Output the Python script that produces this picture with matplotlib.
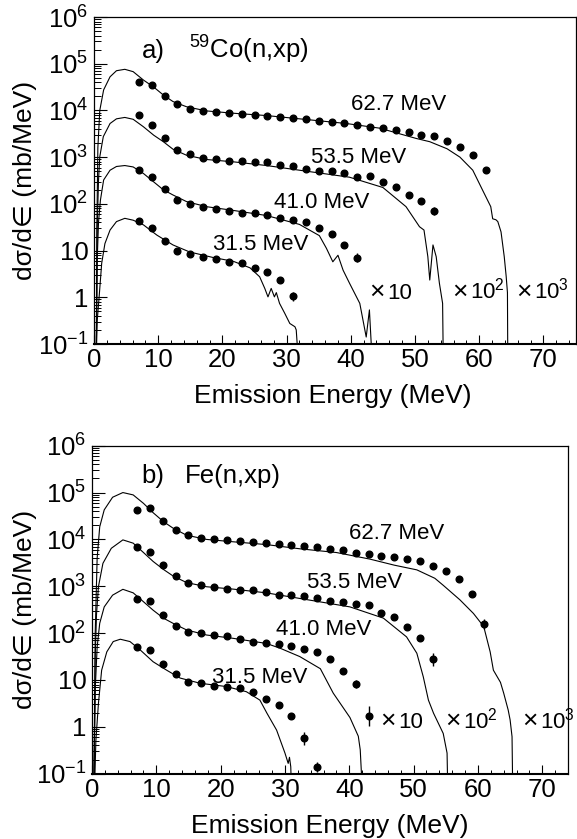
import numpy as np
import matplotlib
matplotlib.use('Agg')
import matplotlib.pyplot as plt
from matplotlib.ticker import MultipleLocator, LogLocator, NullFormatter

plt.rcParams['font.family'] = ['Liberation Sans', 'DejaVu Sans']
plt.rcParams['mathtext.fontset'] = 'custom'
plt.rcParams['mathtext.rm'] = 'Liberation Sans'
plt.rcParams['mathtext.it'] = 'Liberation Sans:italic'
plt.rcParams['mathtext.bf'] = 'Liberation Sans:bold'
plt.rcParams['axes.unicode_minus'] = False

# ---------------- data (mb/MeV, unscaled) ----------------
incident = ['31.5 MeV', '41.0 MeV', '53.5 MeV', '62.7 MeV']
scale_factors = [1, 10, 100, 1000]
scale_labels = ['', '10', r'$\mathregular{10^{2}}$', r'$\mathregular{10^{3}}$']

# --- panel a) 59Co(n,xp) experimental points ---
co_E_315 = [7, 9, 11, 13, 15, 17, 19, 21, 23, 25, 27, 29, 31]
co_315 = [43.7, 30.9, 15.8, 10.0, 8.5, 7.4, 6.6, 5.75, 5.5, 4.27, 3.55, 2.40, 1.05]
co_E_410 = [7, 9, 11, 13, 15, 17, 19, 21, 23, 25, 27, 29, 31, 33, 35, 37, 39, 41]
co_410 = [52.5, 38.0, 20.9, 12.0, 9.77, 8.5, 7.6, 7.2, 6.5, 6.4, 5.7, 4.95, 4.6, 4.0, 3.0, 2.24, 1.33, 0.71]
co_E_535 = [7, 9, 11, 13, 15, 17, 19, 21, 23, 25, 27, 29, 31, 33, 35, 37, 39, 41, 43, 45, 47, 49, 51, 53]
co_535 = [78.5, 48.6, 25.7, 14.1, 11.7, 9.42, 8.95, 8.38, 8.13, 7.85, 7.76, 6.92, 6.61, 5.62, 5.13, 5.01,
          4.57, 3.80, 3.98, 2.95, 2.34, 1.55, 1.15, 0.71]
co_E_627 = [7, 9, 11, 13, 15, 17, 19, 21, 23, 25, 27, 29, 31, 33, 35, 37, 39, 41, 43, 45, 47, 49, 51, 53,
            55, 57, 59, 61]
co_627 = [41.2, 35.0, 20.7, 13.5, 10.7, 9.86, 9.25, 8.79, 8.37, 7.94, 7.59, 7.33, 6.98, 6.46, 6.03, 5.62,
          5.37, 4.90, 4.42, 4.17, 3.72, 3.47, 3.02, 2.82, 2.24, 1.62, 1.10, 0.525]
# error bars (half width in decades) on selected points
co_err_E_315 = [31]
co_err_dex_315 = [0.10]
co_err_E_410 = [41]
co_err_dex_410 = [0.09]
co_err_E_535 = [53]
co_err_dex_535 = [0.09]
co_err_E_627 = []
co_err_dex_627 = []

# --- panel a) calculations ---
co_cE_315 = [0.35, 0.5, 0.8, 1.2, 1.7, 2.5, 3.5, 4.8, 6.1, 7.7, 9.8, 12.3, 14.9, 18.6, 21.7, 24.3, 25.8,
             26.6, 27.1, 27.6, 28.1, 28.4, 28.9, 29.7, 30.5, 31.3, 31.5, 31.8]
co_c_315 = [0.05, 0.316, 1.02, 5.37, 14.1, 27.5, 41.7, 49.0, 44.7, 35.5, 21.4, 13.2, 9.33, 7.08, 5.89,
            4.27, 2.75, 1.55, 1.02, 1.55, 1.02, 1.26, 0.741, 0.457, 0.275, 0.234, 0.2, 0.05]
co_cE_410 = [0.35, 0.5, 0.7, 1.0, 1.5, 2.5, 3.5, 4.8, 6.1, 7.7, 9.3, 10.8, 12.3, 14.4, 17.5, 21.7, 26.9,
             32.0, 35.1, 36.2, 37.2, 38.0, 38.8, 39.8, 41.4, 42.4, 42.9, 43.3]
co_c_410 = [0.005, 0.631, 3.98, 12.0, 32.4, 52.5, 63.1, 66.1, 61.7, 44.7, 29.5, 20.0, 15.5, 11.2, 8.71,
            7.24, 5.62, 3.63, 2.09, 1.12, 0.575, 0.794, 0.380, 0.200, 0.0741, 0.0141, 0.0537, 0.005]
co_cE_535 = [0.35, 0.5, 0.7, 0.9, 1.45, 2.5, 3.5, 4.8, 6.1, 7.7, 9.3, 10.8, 12.3, 14.4, 17.5, 21.7, 26.9,
             32.0, 39.8, 45.0, 48.6, 50.7, 51.4, 52.0, 52.3, 52.8, 53.3, 53.8, 54.3, 54.4]
co_c_535 = [0.0005, 0.316, 3.16, 10.2, 27.5, 52.5, 66.1, 70.8, 64.6, 44.7, 29.5, 21.4, 14.8, 11.0, 8.91,
            7.94, 6.61, 5.25, 3.72, 2.24, 0.871, 0.324, 0.275, 0.0741, 0.0234, 0.132, 0.0741, 0.02,
            0.00741, 0.0005]
co_cE_627 = [0.35, 0.45, 0.6, 0.9, 1.5, 2.5, 3.5, 4.8, 6.1, 7.7, 9.3, 10.8, 12.3, 14.4, 17.5, 21.7, 26.9,
             32.0, 39.3, 44.5, 50.2, 52.3, 55.0, 57.0, 59.0, 60.5, 61.8, 62.1, 62.6, 62.9, 63.4, 63.9,
             64.2, 64.4, 64.45]
co_c_627 = [0.00005, 0.0316, 1.58, 10.0, 27.5, 52.5, 70.8, 75.9, 67.6, 44.7, 31.6, 21.4, 15.5, 12.0, 9.77,
            8.71, 7.76, 6.61, 5.25, 4.17, 2.51, 2.14, 1.51, 1.0, 0.525, 0.200, 0.0871, 0.0479, 0.0457,
            0.0417, 0.0251, 0.00741, 0.00282, 0.00126, 0.00005]

# --- panel b) Fe(n,xp) experimental points ---
fe_E_315 = [7, 9, 11, 13, 15, 17, 19, 21, 23, 25, 27, 29, 31, 33, 35]
fe_315 = [51.3, 43.7, 21.9, 13.2, 9.12, 8.51, 7.41, 7.24, 6.61, 5.62, 3.89, 2.95, 1.74, 0.575, 0.141]
fe_E_410 = [7, 9, 11, 13, 15, 17, 19, 21, 23, 25, 27, 29, 31, 33, 35, 37, 39, 41, 43]
fe_410 = [53.7, 49.0, 24.0, 14.5, 10.7, 10.0, 9.12, 8.71, 7.41, 6.61, 6.03, 5.75, 5.37, 4.68, 3.89, 2.82,
          1.55, 0.813, 0.17]
fe_E_535 = [7, 9, 11, 13, 15, 17, 19, 21, 23, 25, 27, 29, 31, 33, 35, 37, 39, 41, 43, 45, 47, 49, 51, 53]
fe_535 = [70.0, 53.7, 28.2, 16.6, 11.5, 10.5, 9.66, 8.91, 8.32, 8.13, 7.41, 6.61, 6.46, 6.17, 5.62, 4.90,
          4.68, 4.27, 3.89, 2.75, 2.19, 1.32, 0.776, 0.275]
fe_E_627 = [7, 9, 11, 13, 15, 17, 19, 21, 23, 25, 27, 29, 31, 33, 35, 37, 39, 41, 43, 45, 47, 49, 51, 53,
            55, 57, 59, 61]
fe_627 = [42.7, 45.7, 25.1, 15.5, 12.3, 10.7, 10.2, 9.77, 9.12, 8.81, 8.32, 7.94, 7.76, 7.24, 6.76, 6.31,
          5.89, 5.25, 4.90, 4.47, 4.17, 3.89, 3.39, 2.75, 2.14, 1.45, 0.684, 0.155]
fe_err_E_315 = [31, 33, 35]
fe_err_dex_315 = [0.06, 0.14, 0.11]
fe_err_E_410 = [41, 43]
fe_err_dex_410 = [0.08, 0.22]
fe_err_E_535 = [53]
fe_err_dex_535 = [0.14]
fe_err_E_627 = [61]
fe_err_dex_627 = [0.11]

# --- panel b) calculations ---
fe_cE_315 = [0.4, 0.6, 1.0, 1.5, 2.3, 3.3, 4.4, 5.9, 7.5, 9.5, 11.6, 13.7, 16.8, 20.9, 24.0, 26.1, 27.2,
             28.7, 30.0, 30.5, 30.7, 30.9, 31.0]
fe_c_315 = [0.05, 0.501, 3.16, 16.2, 39.8, 66.1, 74.1, 66.1, 43.7, 24.5, 16.2, 11.0, 8.51, 7.24, 5.62,
            3.72, 1.95, 0.851, 0.275, 0.166, 0.224, 0.141, 0.05]
fe_cE_410 = [0.3, 0.5, 0.8, 1.2, 1.9, 3.2, 4.8, 6.4, 8.0, 9.5, 11.1, 12.6, 14.7, 17.8, 21.9, 27.1, 29.2,
             32.3, 35.5, 37.5, 40.1, 41.4, 41.7, 42.0]
fe_c_410 = [0.005, 0.631, 5.01, 16.2, 36.3, 64.6, 86.1, 72.4, 46.8, 30.9, 20.9, 16.2, 11.7, 9.12, 7.76,
            6.03, 4.79, 3.16, 1.74, 0.525, 0.158, 0.0631, 0.0324, 0.005]
fe_cE_535 = [0.3, 0.5, 0.7, 1.0, 1.7, 3.0, 4.8, 6.4, 8.0, 9.5, 11.1, 12.6, 14.7, 17.8, 21.9, 27.1, 32.3,
             40.1, 45.3, 48.9, 50.5, 51.5, 52.3, 53.1, 54.6, 55.2, 55.3]
fe_c_535 = [0.0005, 0.316, 2.51, 9.77, 30.9, 64.6, 97.7, 83.2, 52.5, 33.9, 22.9, 16.6, 12.0, 9.77, 8.71,
            7.24, 5.50, 3.63, 2.09, 0.832, 0.372, 0.117, 0.0372, 0.0195, 0.00724, 0.00275, 0.0005]
fe_cE_627 = [0.3, 0.5, 0.8, 1.2, 1.9, 3.2, 4.8, 6.4, 8.0, 9.5, 11.1, 12.6, 14.7, 17.8, 21.9, 27.1, 32.3,
             38.0, 43.2, 47.0, 50.5, 53.3, 54.6, 57.2, 59.3, 60.9, 61.9, 62.4, 63.5, 64.0, 64.7, 65.0,
             65.3, 65.4]
fe_c_627 = [0.00005, 0.1, 3.98, 18.6, 42.7, 79.4, 100, 89.1, 58.9, 37.2, 24.0, 17.4, 12.3, 10.0, 8.91,
            7.76, 6.31, 5.25, 3.80, 2.82, 2.24, 1.48, 1.05, 0.513, 0.263, 0.138, 0.0398, 0.0162,
            0.00891, 0.00525, 0.00229, 0.00141, 0.000617, 0.00005]

ytick_vals = [1e-1, 1, 1e1, 1e2, 1e3, 1e4, 1e5, 1e6]
ytick_labels = [r'$\mathregular{10^{-1}}$', '1', '10', r'$\mathregular{10^{2}}$', r'$\mathregular{10^{3}}$',
                r'$\mathregular{10^{4}}$', r'$\mathregular{10^{5}}$', r'$\mathregular{10^{6}}$']

# ---------------- figure ----------------
W, H = 577, 839
fig = plt.figure(figsize=(W / 100, H / 100), dpi=100)
fig.patch.set_facecolor('white')

ax_a = fig.add_axes([94 / W, 1 - 344 / H, (575.5 - 94) / W, 327 / H])
ax_b = fig.add_axes([92 / W, 1 - 773.7 / H, (568 - 92) / W, 328 / H])

TICK_FS = 18.5
ANN_FS = 16


def style_axes(ax, xmax):
    ax.set_yscale('log')
    ax.set_ylim(1e-1, 1e6)
    ax.set_xlim(0, xmax)
    ax.xaxis.set_major_locator(MultipleLocator(10))
    ax.xaxis.set_minor_locator(MultipleLocator(2))
    ax.set_yticks(ytick_vals)
    ax.set_yticklabels(ytick_labels)
    ax.yaxis.set_minor_locator(LogLocator(base=10, subs=np.arange(2, 10), numticks=50))
    ax.yaxis.set_minor_formatter(NullFormatter())
    ax.tick_params(axis='y', which='major', direction='in', length=9, width=0.8, labelsize=TICK_FS,
                   pad=4, right=False)
    ax.tick_params(axis='y', which='minor', direction='in', length=4.8, width=0.7, right=False)
    ax.tick_params(axis='x', which='major', direction='in', length=6.5, width=0.8, labelsize=TICK_FS,
                   pad=3, top=False)
    ax.tick_params(axis='x', which='minor', direction='in', length=3.2, width=0.7, top=False)
    for s in ax.spines.values():
        s.set_linewidth(0.9)
    ax.spines['bottom'].set_linewidth(1.5)


def draw_panel(ax, dots, curves, errs):
    for (E, v), s in zip(dots, scale_factors):
        ax.plot(E, np.array(v) * s, 'o', color='black', ms=4.8, mec='black', zorder=3)
    for (E, v), s in zip(curves, scale_factors):
        ax.plot(E, np.array(v) * s, '-', color='black', lw=0.8, zorder=2)
    for (dE, dd), (E, v), s in zip(errs, dots, scale_factors):
        if not dE:
            continue
        vals = np.array([v[E.index(e)] for e in dE]) * s
        dd = np.array(dd)
        lo = vals * (1 - 10 ** (-dd))
        hi = vals * (10 ** dd - 1)
        ax.errorbar(dE, vals, yerr=[lo, hi], fmt='none', ecolor='black', elinewidth=1.0, capsize=0,
                    zorder=3)


style_axes(ax_a, 75)
style_axes(ax_b, 74)

draw_panel(ax_a,
           [(co_E_315, co_315), (co_E_410, co_410), (co_E_535, co_535), (co_E_627, co_627)],
           [(co_cE_315, co_c_315), (co_cE_410, co_c_410), (co_cE_535, co_c_535), (co_cE_627, co_c_627)],
           [(co_err_E_315, co_err_dex_315), (co_err_E_410, co_err_dex_410),
            (co_err_E_535, co_err_dex_535), (co_err_E_627, co_err_dex_627)])
draw_panel(ax_b,
           [(fe_E_315, fe_315), (fe_E_410, fe_410), (fe_E_535, fe_535), (fe_E_627, fe_627)],
           [(fe_cE_315, fe_c_315), (fe_cE_410, fe_c_410), (fe_cE_535, fe_c_535), (fe_cE_627, fe_c_627)],
           [(fe_err_E_315, fe_err_dex_315), (fe_err_E_410, fe_err_dex_410),
            (fe_err_E_535, fe_err_dex_535), (fe_err_E_627, fe_err_dex_627)])

# energy labels
for ax, pos in ((ax_a, [(18.6, 10 ** 1.01), (28.0, 10 ** 1.92), (33.8, 10 ** 2.87), (40.0, 10 ** 4.01)]),
                (ax_b, [(18.6, 10 ** 0.93), (28.6, 10 ** 1.96), (33.5, 10 ** 2.97), (40.0, 10 ** 4.01)])):
    for lab, (x, y) in zip(incident, pos):
        ax.text(x, y, lab, fontsize=ANN_FS, ha='left', va='baseline')

# scale labels ("x 10", "x 10^2", "x 10^3")
for ax, xs in ((ax_a, [42.9, 55.8, 65.8]), (ax_b, [44.8, 54.9, 66.9])):
    for lab, x in zip(scale_labels[1:], xs):
        ax.annotate('×', (x, 0.94), fontsize=19, ha='left', va='baseline')
        ax.annotate(lab, (x, 0.94), xytext=(12.8, 0), textcoords='offset points',
                    fontsize=ANN_FS, ha='left', va='baseline')

# panel titles
ax_a.text(7.4, 10 ** 5.12, 'a)', fontsize=18.5, ha='left', va='baseline')
ax_a.text(14.8, 10 ** 5.12, r'$\mathregular{^{59}}$Co(n,xp)', fontsize=18.5, ha='left', va='baseline')
ax_b.text(7.7, 10 ** 5.20, 'b)', fontsize=18.5, ha='left', va='baseline')
ax_b.text(14.5, 10 ** 5.20, 'Fe(n,xp)', fontsize=18.5, ha='left', va='baseline')

# axis titles
for yc in ((17 + 344) / 2, (445.7 + 773.7) / 2):
    fig.text(25 / W, 1 - yc / H, 'dσ/d∈ (mb/MeV)', rotation=90, fontsize=19, ha='center', va='center')
fig.text(333 / W, 1 - 403.3 / H, 'Emission Energy (MeV)', fontsize=19, ha='center', va='baseline')
fig.text(330 / W, 1 - 833 / H, 'Emission Energy (MeV)', fontsize=19, ha='center', va='baseline')

fig.savefig('out.png', dpi=100, facecolor='white')
